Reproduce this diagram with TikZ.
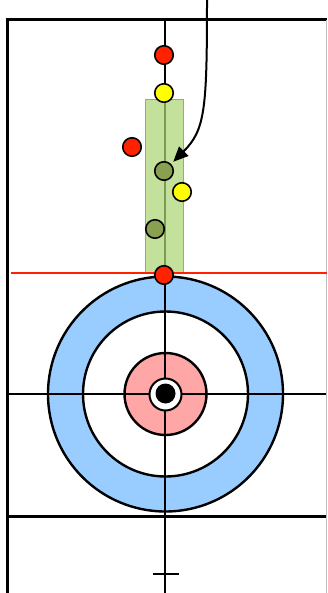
\documentclass[tikz,border=0pt]{standalone}
\usetikzlibrary{arrows.meta}
\definecolor{stonered}{RGB}{255,34,0}
\definecolor{stoneyellow}{RGB}{255,255,0}
\definecolor{stonegreen}{RGB}{136,160,80}
\definecolor{ringblue}{RGB}{153,204,255}
\definecolor{ringpink}{RGB}{255,166,166}
\definecolor{zonegreen}{RGB}{196,225,156}
\definecolor{zoneedge}{RGB}{140,165,190}
\definecolor{zoneline}{RGB}{125,155,85}
\begin{document}
\begin{tikzpicture}[x=1pt,y=-1pt,
    stone/.style={circle,draw=black,line width=1.6pt,minimum size=18.5pt,inner sep=0pt},
    ring/.style={draw=black,line width=2.4pt}]
    \useasboundingbox (0,0) rectangle (327,593);
    % ---- house ----
    \draw[ring,fill=ringblue] (165.5,394) circle (117.5pt);
    \draw[ring,fill=white] (165.5,394) circle (82.5pt);
    \draw[ring,fill=ringpink] (165.5,394) circle (41pt);
    % ---- sheet lines ----
    \draw[line width=1.5pt] (7,394) -- (327,394);
    \draw[line width=1.9pt] (165,20) -- (165,593);
    \draw[line width=3pt] (7,516) -- (327,516);
    \draw[line width=2.6pt] (153,574) -- (179,574);
    \draw[line width=3pt] (7,20) -- (7,593);
    \draw[line width=3pt] (5.5,20) -- (327,20);
    \draw[gray!50,line width=1pt] (326,20) -- (326,593);
    % ---- button ----
    \fill[white,draw=black,line width=2pt] (165.5,394.5) circle (16pt);
    \fill[black] (165.5,393.5) circle (10pt);
    % ---- guard zone ----
    \draw[zoneedge,fill=zonegreen,line width=1pt] (145.7,99.3) rectangle (183.7,273);
    \draw[zoneline,line width=2pt] (165,99.3) -- (165,273);
    \draw[stonered,line width=2pt] (10.7,273) -- (327,273);
    % ---- stones ----
    \node[stone,fill=stonered] (red1) at (164,55) {};
    \node[stone,fill=stoneyellow] (yellow1) at (164,93) {};
    \node[stone,fill=stonered] (red2) at (132,147) {};
    \node[stone,fill=stonegreen] (green1) at (164,171) {};
    \node[stone,fill=stoneyellow] (yellow2) at (182,192) {};
    \node[stone,fill=stonegreen] (green2) at (155,229) {};
    \node[stone,fill=stonered] (red3) at (164,275) {};
    % ---- delivery ----
    \coordinate (throw) at (207,0);
    \draw[-{Triangle[length=15pt,width=13pt]},line width=2pt,shorten >=3pt]
      (throw) .. controls (207,110) and (205,130) .. (green1);
\end{tikzpicture}
\end{document}
